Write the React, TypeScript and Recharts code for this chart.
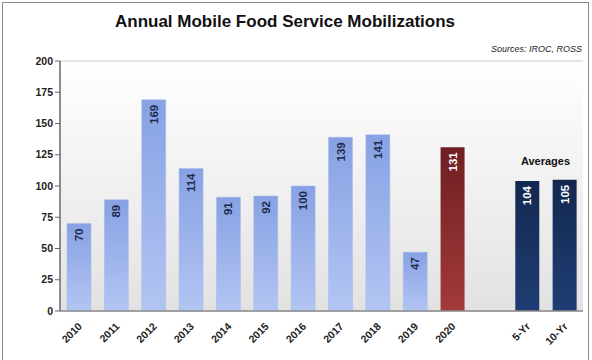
import React from "react";
import {
  BarChart,
  Bar,
  XAxis,
  YAxis,
  CartesianGrid,
  Cell,
  LabelList,
  ReferenceDot,
} from "recharts";

const categories = ["2010", "2011", "2012", "2013", "2014", "2015", "2016", "2017", "2018", "2019", "2020", "", "5-Yr", "10-Yr"];
const mobilizations = [70, 89, 169, 114, 91, 92, 100, 139, 141, 47, 131, null, 104, 105];
const barKinds = ["year", "year", "year", "year", "year", "year", "year", "year", "year", "year", "current", "none", "avg", "avg"];
const yTicks = [0, 25, 50, 75, 100, 125, 150, 175, 200];

const data = categories.map((name, i) => ({ name, value: mobilizations[i], kind: barKinds[i] }));

const FONT = '"Liberation Sans", Arial, sans-serif';

const fillFor: Record<string, string> = {
  year: "url(#gradYear)",
  current: "url(#gradCurrent)",
  avg: "url(#gradAvg)",
  none: "none",
};

function XTick({ x, y, payload }: any) {
  if (!payload.value) return null;
  return (
    <text
      x={x + 4}
      y={y + 8}
      transform={`rotate(-45 ${x + 4} ${y + 8})`}
      textAnchor="end"
      fontFamily={FONT}
      fontSize={10.5}
      fontWeight={700}
      fill="#222"
    >
      {payload.value}
    </text>
  );
}

function ValueLabel(props: any) {
  const { x, y, width, value, index } = props;
  if (value == null) return null;
  const cx = x + width / 2 + 4;
  const ty = y + 5;
  const dark = barKinds[index] !== "year";
  return (
    <text
      x={cx}
      y={ty}
      transform={`rotate(-90 ${cx} ${ty})`}
      textAnchor="end"
      fontFamily={FONT}
      fontSize={11.5}
      fontWeight={700}
      fill={dark ? "#ffffff" : "#1e2a4a"}
    >
      {value}
    </text>
  );
}

export default function App() {
  return (
    <div
      style={{
        position: "fixed",
        top: 0,
        left: 0,
        width: 592,
        height: 360,
        background: "#fff",
        fontFamily: FONT,
      }}
    >
      <div
        style={{
          position: "absolute",
          left: 2,
          top: 2,
          width: 587,
          height: 360,
          border: "1px solid #8a8a8a",
          boxSizing: "border-box",
        }}
      />
      <div
        style={{
          position: "absolute",
          top: 12,
          left: 0,
          width: 570,
          textAlign: "center",
          fontSize: 17,
          fontWeight: 700,
          color: "#111",
        }}
      >
        Annual Mobile Food Service Mobilizations
      </div>
      <div
        style={{
          position: "absolute",
          top: 44,
          right: 10,
          fontSize: 9,
          fontStyle: "italic",
          color: "#222",
        }}
      >
        Sources: IROC, ROSS
      </div>
      <BarChart
        width={592}
        height={360}
        data={data}
        margin={{ top: 61, right: 9, left: 0, bottom: 0 }}
        barSize={24}
        style={{ position: "absolute", top: 0, left: 0 }}
      >
        <defs>
          <linearGradient id="gradPlot" x1="0" y1="0" x2="0" y2="1">
            <stop offset="0%" stopColor="#ffffff" />
            <stop offset="100%" stopColor="#e2e2e2" />
          </linearGradient>
          <linearGradient id="gradYear" x1="0" y1="0" x2="0" y2="1">
            <stop offset="0%" stopColor="#87a1e3" />
            <stop offset="100%" stopColor="#b2c5f3" />
          </linearGradient>
          <linearGradient id="gradCurrent" x1="0" y1="0" x2="0" y2="1">
            <stop offset="0%" stopColor="#6e1f22" />
            <stop offset="100%" stopColor="#a33a3a" />
          </linearGradient>
          <linearGradient id="gradAvg" x1="0" y1="0" x2="0" y2="1">
            <stop offset="0%" stopColor="#13284f" />
            <stop offset="100%" stopColor="#1f3d74" />
          </linearGradient>
        </defs>
        <CartesianGrid vertical={false} stroke="#c9c9c9" fill="url(#gradPlot)" />
        <XAxis
          dataKey="name"
          interval={0}
          height={49}
          tick={<XTick />}
          tickLine={false}
          axisLine={{ stroke: "#8c8c8c", strokeWidth: 1.5 }}
        />
        <YAxis
          yAxisId="left"
          domain={[0, 200]}
          ticks={yTicks}
          width={60}
          tickSize={5}
          tickLine={{ stroke: "#666" }}
          axisLine={{ stroke: "#8c8c8c", strokeWidth: 2 }}
          tick={{ fill: "#222", fontSize: 10.5, fontWeight: 700, fontFamily: FONT }}
        />
        <YAxis
          yAxisId="right"
          orientation="right"
          domain={[0, 200]}
          width={0}
          tick={false}
          tickLine={false}
          axisLine={{ stroke: "#9a9a9a", strokeWidth: 1.5 }}
        />
        <Bar yAxisId="left" dataKey="value" isAnimationActive={false}>
          {data.map((d, i) => (
            <Cell key={i} fill={fillFor[d.kind]} stroke={d.kind === "year" ? "#a6b9ee" : "none"} strokeWidth={0.5} />
          ))}
          <LabelList dataKey="value" content={<ValueLabel />} />
        </Bar>
        <ReferenceDot
          yAxisId="left"
          x="5-Yr"
          y={119}
          r={1}
          fill="none"
          stroke="none"
          label={{
            content: (p: any) => (
              <text
                x={p.viewBox.x + 1 + 18.5}
                y={p.viewBox.y + 4}
                textAnchor="middle"
                fontFamily={FONT}
                fontSize={11}
                fontWeight={700}
                fill="#111"
              >
                Averages
              </text>
            ),
          }}
        />
      </BarChart>
    </div>
  );
}
